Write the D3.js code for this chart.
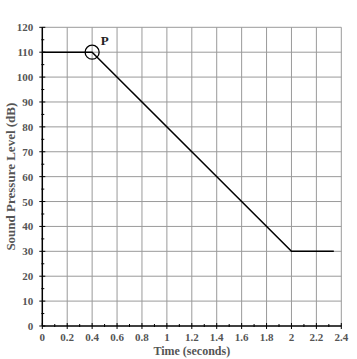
<!DOCTYPE html>
<html><head><meta charset="utf-8">
<script src="https://cdn.jsdelivr.net/npm/d3@7"></script>
<style>body{margin:0;background:#fff}svg{display:block}</style>
</head><body>
<script>
const xTicks = [0,0.2,0.4,0.6,0.8,1,1.2,1.4,1.6,1.8,2,2.2,2.4];
const yTicks = [0,10,20,30,40,50,60,70,80,90,100,110,120];
const timeValues = [0, 0.4, 2, 2.34];
const levelValues = [110, 110, 30, 30];
const markerPoint = {t: 0.4, level: 110, label: "P"};

const W = 357, H = 359;
const m = {left: 42.3, right: 15.7, top: 27.3, bottom: 33};
const svg = d3.select("body").append("svg").attr("width", W).attr("height", H);
const x = d3.scaleLinear().domain([0, 2.4]).range([m.left, W - m.right]);
const y = d3.scaleLinear().domain([0, 120]).range([H - m.bottom, m.top]);
const font = "Liberation Serif, Times New Roman, serif";

// grid
const g = svg.append("g");
g.selectAll(".vg").data(xTicks.slice(1)).join("line")
  .attr("x1", d => x(d)).attr("x2", d => x(d)).attr("y1", y(0)).attr("y2", y(120))
  .attr("stroke", "#9a9a9a").attr("stroke-width", 1);
g.selectAll(".hg").data(yTicks.slice(1)).join("line")
  .attr("y1", d => y(d)).attr("y2", d => y(d)).attr("x1", x(0)).attr("x2", x(2.4))
  .attr("stroke", "#9a9a9a").attr("stroke-width", 1);

// minor ticks
const xMinor = d3.range(0.1, 2.4, 0.2);
const yMinor = d3.range(5, 120, 10);
svg.selectAll(".xm").data(xMinor).join("line")
  .attr("x1", d => x(d)).attr("x2", d => x(d)).attr("y1", y(0) - 2).attr("y2", y(0) + 1)
  .attr("stroke", "#000").attr("stroke-width", 1);
svg.selectAll(".ym").data(yMinor).join("line")
  .attr("y1", d => y(d)).attr("y2", d => y(d)).attr("x1", x(0) - 1).attr("x2", x(0) + 2)
  .attr("stroke", "#000").attr("stroke-width", 1);
// major ticks
svg.selectAll(".xM").data(xTicks).join("line")
  .attr("x1", d => x(d)).attr("x2", d => x(d)).attr("y1", y(0) - 3).attr("y2", y(0) + 3)
  .attr("stroke", "#000").attr("stroke-width", 1);
svg.selectAll(".yM").data(yTicks).join("line")
  .attr("y1", d => y(d)).attr("y2", d => y(d)).attr("x1", x(0) - 3).attr("x2", x(0) + 3)
  .attr("stroke", "#000").attr("stroke-width", 1);

// axes lines
svg.append("line").attr("x1", x(0)).attr("x2", x(2.4)).attr("y1", y(0)).attr("y2", y(0))
  .attr("stroke", "#000").attr("stroke-width", 1.5);
svg.append("line").attr("x1", x(0)).attr("x2", x(0)).attr("y1", y(0)).attr("y2", y(120))
  .attr("stroke", "#000").attr("stroke-width", 1.5);

// tick labels
svg.selectAll(".xl").data(xTicks).join("text")
  .attr("x", d => x(d)).attr("y", y(0) + 14.5).attr("text-anchor", "middle")
  .attr("font-family", font).attr("font-weight", "bold").attr("font-size", 11).attr("fill", "#555")
  .text(d => String(d));
svg.selectAll(".yl").data(yTicks).join("text")
  .attr("x", x(0) - 9).attr("y", d => y(d) + 4).attr("text-anchor", "end")
  .attr("font-family", font).attr("font-weight", "bold").attr("font-size", 11).attr("fill", "#555")
  .text(d => String(d));

// axis titles
svg.append("text").attr("x", (x(0) + x(2.4)) / 2).attr("y", 355).attr("text-anchor", "middle")
  .attr("font-family", font).attr("font-weight", "bold").attr("font-size", 12).attr("fill", "#555")
  .text("Time (seconds)");
svg.append("text").attr("transform", `translate(15,${(y(0) + y(120)) / 2}) rotate(-90)`)
  .attr("text-anchor", "middle")
  .attr("font-family", font).attr("font-weight", "bold").attr("font-size", 13).attr("fill", "#555")
  .text("Sound Pressure Level (dB)");

// data line
const data = timeValues.map((t, i) => ({t, v: levelValues[i]}));
svg.append("path").datum(data)
  .attr("d", d3.line().x(d => x(d.t)).y(d => y(d.v)))
  .attr("fill", "none").attr("stroke", "#000").attr("stroke-width", 1.5);

// marker
svg.append("circle").attr("cx", x(markerPoint.t)).attr("cy", y(markerPoint.level)).attr("r", 7)
  .attr("fill", "none").attr("stroke", "#000").attr("stroke-width", 1.3);
svg.append("text").attr("x", x(markerPoint.t) + 8.5).attr("y", y(markerPoint.level) - 7)
  .attr("font-family", font).attr("font-weight", "bold").attr("font-size", 13).attr("fill", "#222")
  .text(markerPoint.label);
</script>
</body></html>
